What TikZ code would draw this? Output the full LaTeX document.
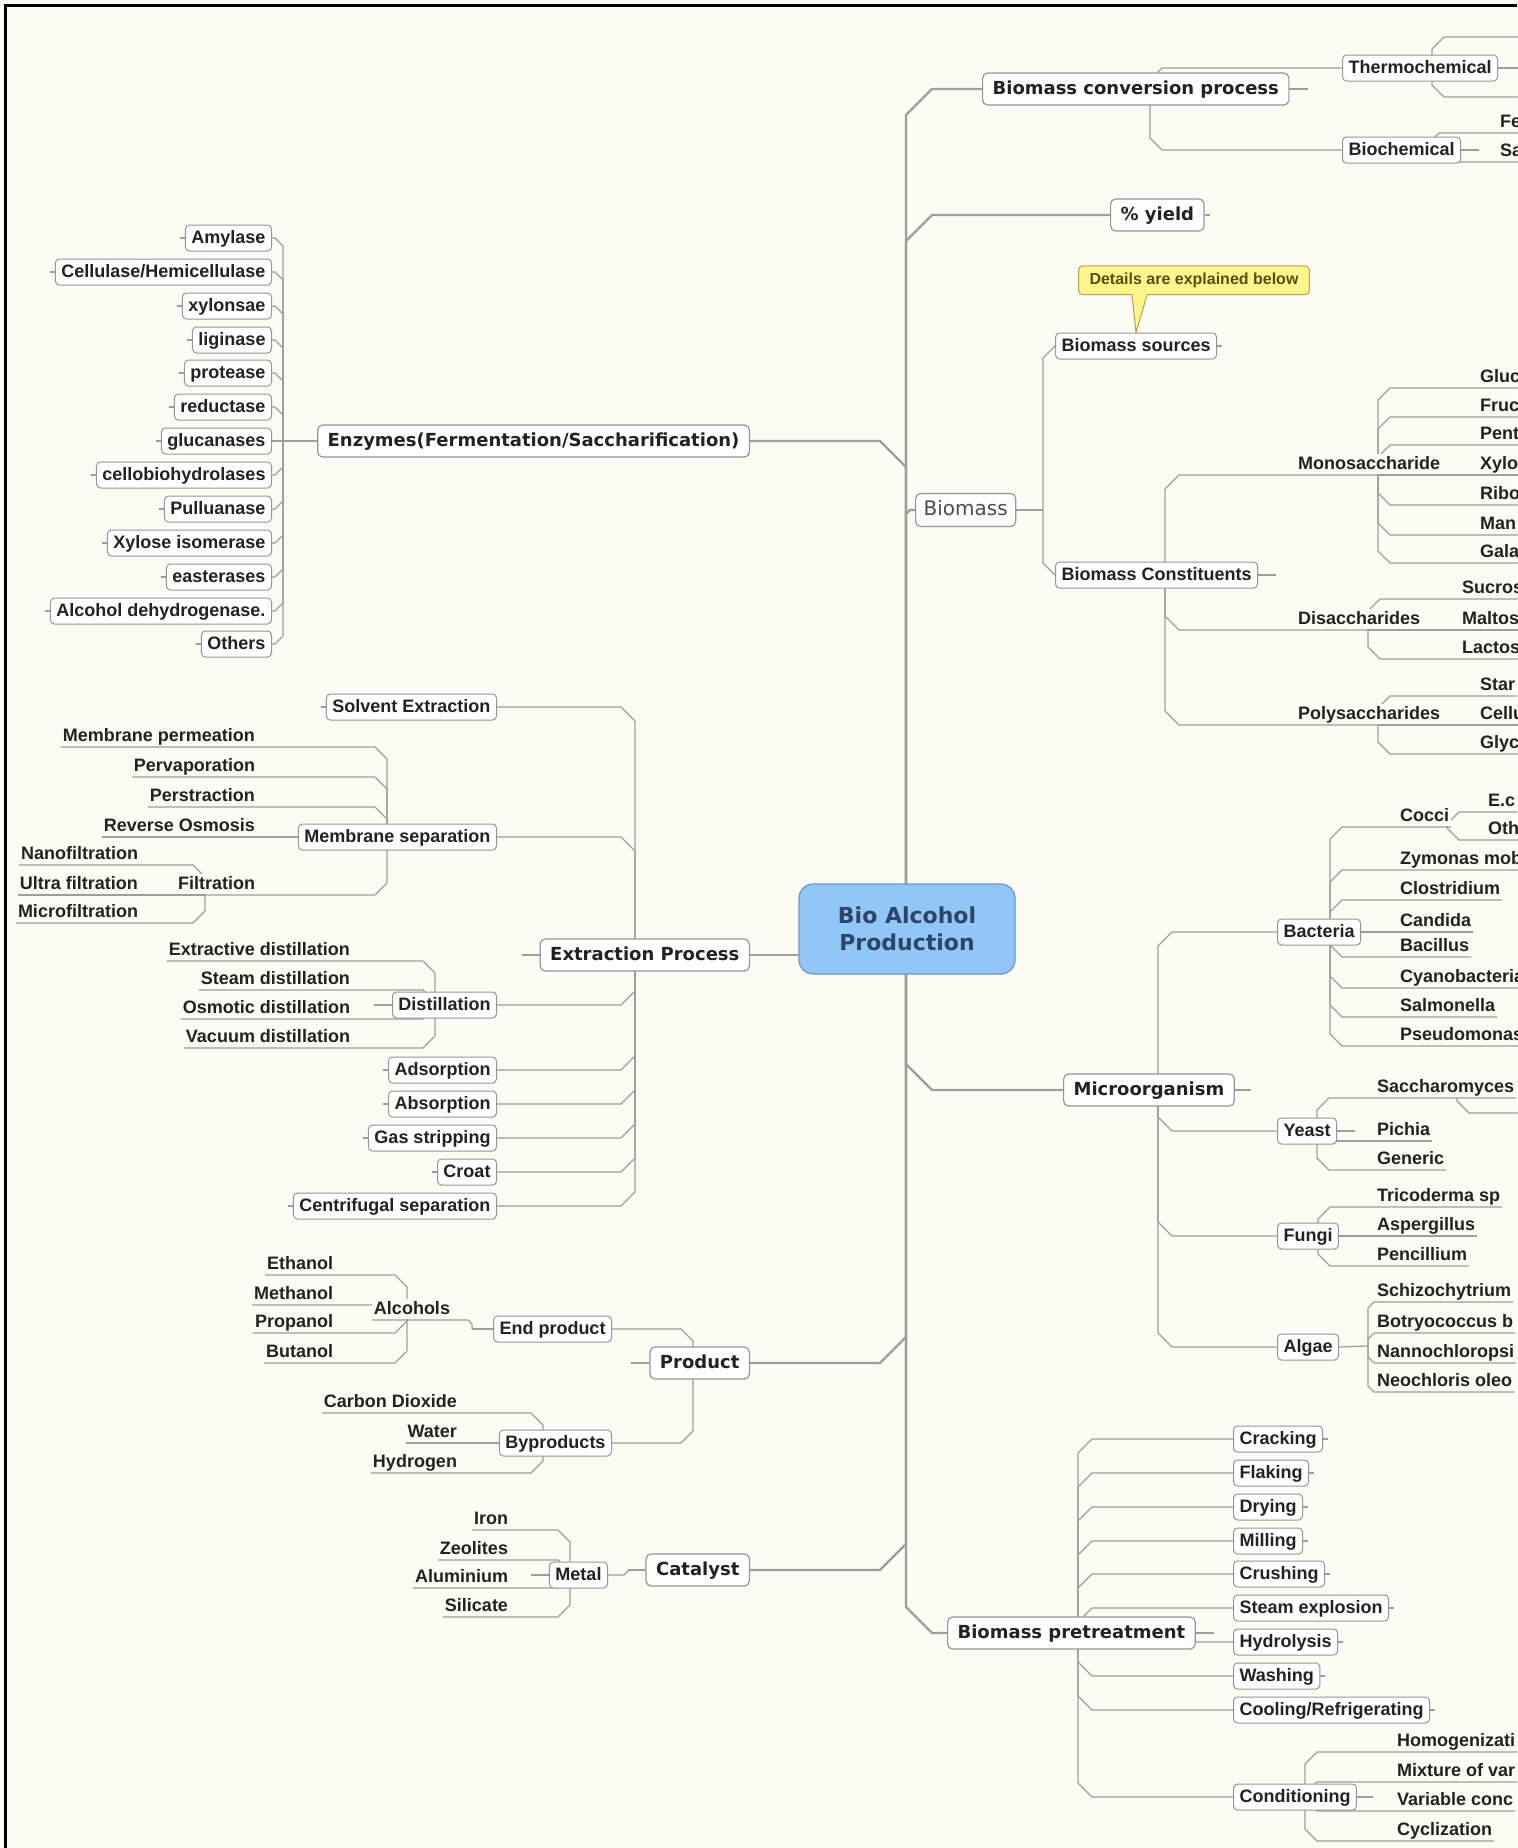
\documentclass[tikz,border=0pt]{standalone}
\usepackage{fontspec}
\setmainfont{Liberation Sans}
\newfontfamily\dejavu{DejaVu Sans}
\usetikzlibrary{calc}
\definecolor{xPaper}{RGB}{252,252,245}
\definecolor{xWire}{RGB}{158,158,156}
\definecolor{xLine}{RGB}{150,150,148}
\definecolor{xInk}{RGB}{34,34,34}
\definecolor{xHub}{RGB}{146,198,247}
\definecolor{xHubLine}{RGB}{105,150,200}
\definecolor{xHubInk}{RGB}{42,70,104}
\definecolor{xNote}{RGB}{255,245,140}
\definecolor{xNoteLine}{RGB}{175,165,70}
\definecolor{xNoteInk}{RGB}{85,80,15}
\pgfdeclarelayer{links}
\pgfsetlayers{links,main}
\tikzset{
  hubbox/.style={draw=xHubLine, fill=xHub, rounded corners=7pt, line width=0.6pt, align=center,
                 text=xHubInk, font=\dejavu\bfseries\fontsize{11}{13.5}\selectfont,
                 minimum width=108pt, minimum height=45pt},
  branchbox/.style={draw=xLine, fill=white, rounded corners=2.5pt, line width=0.6pt, text=xInk,
                 font=\dejavu\bfseries\fontsize{9}{11}\selectfont, inner xsep=5pt, inner ysep=3.5pt,
                 text height=7pt, text depth=2pt},
  softbox/.style={draw=xLine, fill=white, rounded corners=2.5pt, line width=0.6pt, text=black!70,
                 font=\dejavu\fontsize{10}{12}\selectfont, inner xsep=4pt, inner ysep=3.5pt,
                 text height=7.5pt, text depth=2pt},
  subbox/.style={draw=xLine, fill=white, rounded corners=2pt, line width=0.5pt, text=xInk,
                 font=\bfseries\fontsize{9}{11}\selectfont, inner xsep=3pt, inner ysep=2pt,
                 text height=7pt, text depth=2pt},
  tag/.style={fill=xPaper, text=xInk, font=\bfseries\fontsize{9}{11}\selectfont,
              inner xsep=1pt, inner ysep=0.4pt, outer sep=0pt, outer ysep=0.6pt,
              text height=7pt, text depth=2pt},
  callout/.style={draw=xNoteLine, fill=xNote, rounded corners=2pt, line width=0.5pt, text=xNoteInk,
                  font=\bfseries\fontsize{8}{10}\selectfont, inner xsep=5.5pt, inner ysep=3pt,
                  text height=6.5pt, text depth=1.8pt},
  wire/.style={draw=xWire, line width=0.6pt},
  spine/.style={draw=xWire, line width=1.1pt},
  twig/.style={to path={
      let \p1=(\tikztostart), \p2=(\tikztotarget),
          \n1={sign(\y2-\y1)}, \n2={sign(\x2-\x1)} in
      -- (\x1,{\y2-(\n1)*(#1)}) -- ({\x1+(\n2)*(#1)},\y2) -- (\tikztotarget)}},
  twig/.default=6pt,
  stubL/.style={append after command={(\tikzlastnode.west) edge[wire] ([xshift=-#1]\tikzlastnode.west)}},
  stubL/.default=2.5pt,
  stubR/.style={append after command={(\tikzlastnode.east) edge[wire] ([xshift=#1]\tikzlastnode.east)}},
  stubR/.default=2.5pt,
}

\begin{document}
\begin{tikzpicture}[x=0.5pt, y=-0.5pt]
  \useasboundingbox (0,0) rectangle (1517,1848);

  \node[hubbox] (bio) at (907,929) {Bio Alcohol\\Production};
  \coordinate (tHub) at (906,929);

  \node[branchbox, anchor=west, stubR=9pt] (conv) at (982,89) {Biomass conversion process};
  \node[branchbox, anchor=west, stubR] (yld) at (1110,215) {\% yield};
  \node[softbox, anchor=west] (biom) at (915,510) {Biomass};
  \node[branchbox, anchor=west, stubR=8pt] (micro) at (1063,1090) {Microorganism};
  \node[branchbox, anchor=west, stubR=9pt] (pret) at (947,1633) {Biomass pretreatment};
  \node[branchbox, anchor=east] (enz) at (750,441) {Enzymes(Fermentation/Saccharification)};
  \node[branchbox, anchor=east, stubL=9pt] (ext) at (750,955) {Extraction Process};
  \node[branchbox, anchor=east, stubL=9pt] (prod) at (750,1363) {Product};
  \node[branchbox, anchor=east] (cat) at (750,1570) {Catalyst};

  \node[subbox, anchor=west] (thermo) at (1342,68) {Thermochemical};
  \node[subbox, anchor=west, stubR=9pt] (bioch) at (1342,150) {Biochemical};
  \coordinate (tConv) at (1150,89);
  \coordinate (tThermo) at (1432,68);
  \coordinate (tBioch) at (1427,150);
  \coordinate (thA) at (1530,37);
  \coordinate (thB) at (1530,68);
  \coordinate (thC) at (1530,97);
  \node[tag, anchor=south west] (fe) at (1498,133) {Fe};
  \node[tag, anchor=south west] (sa) at (1498,162) {Sa};

  \node[subbox, anchor=west, stubR] (src) at (1055,346) {Biomass sources};
  \node[subbox, anchor=west, stubR=9pt] (cons) at (1055,575) {Biomass Constituents};
  \node[callout, anchor=south west] (tip) at (1078,295) {Details are explained below};
  \coordinate (tBiom) at (1043,510);
  \coordinate (tCons) at (1165,575);

  \node[tag, anchor=south west] (mono) at (1296,475) {Monosaccharide};
  \node[tag, anchor=south west] (di) at (1296,630) {Disaccharides};
  \node[tag, anchor=south west] (poly) at (1296,725) {Polysaccharides};
  \coordinate (tMono) at (1378,475);
  \coordinate (tDi) at (1368,630);
  \coordinate (tPoly) at (1378,725);
  \node[tag, anchor=south west] (sGlu) at (1478,388) {Gluc};
  \node[tag, anchor=south west] (sFru) at (1478,417) {Fruc};
  \node[tag, anchor=south west] (sPen) at (1478,445) {Pent};
  \node[tag, anchor=south west] (sXyl) at (1478,475) {Xylo};
  \node[tag, anchor=south west] (sRib) at (1478,505) {Ribo};
  \node[tag, anchor=south west] (sMan) at (1478,535) {Man};
  \node[tag, anchor=south west] (sGal) at (1478,563) {Gala};
  \node[tag, anchor=south west] (suc) at (1460,599) {Sucros};
  \node[tag, anchor=south west] (mal) at (1460,630) {Maltos};
  \node[tag, anchor=south west] (lac) at (1460,659) {Lactos};
  \node[tag, anchor=south west] (sta) at (1478,696) {Star};
  \node[tag, anchor=south west] (sCel) at (1478,725) {Cellu};
  \node[tag, anchor=south west] (gly) at (1478,754) {Glyc};

  \node[subbox, anchor=west] (bac) at (1277,932) {Bacteria};
  \node[subbox, anchor=west, stubR=9pt] (yea) at (1277,1131) {Yeast};
  \node[subbox, anchor=west] (fun) at (1277,1236) {Fungi};
  \node[subbox, anchor=west] (alg) at (1277,1347) {Algae};
  \coordinate (tMicro) at (1158,1090);
  \coordinate (tBac) at (1330,932);
  \coordinate (tCocci) at (1447,827);
  \coordinate (tYea) at (1317,1141);
  \coordinate (tSac) at (1457,1098);
  \coordinate (sacA) at (1530,1113);
  \coordinate (tFun) at (1318,1236);
  \coordinate (tAlg) at (1368,1346);
  \node[tag, anchor=south west] (cocci) at (1398,827) {Cocci};
  \node[tag, anchor=south west] (ec) at (1486,812) {E.c};
  \node[tag, anchor=south west] (coth) at (1486,840) {Oth};
  \node[tag, anchor=south west] (zym) at (1398,870) {Zymonas mob};
  \node[tag, anchor=south west] (clo) at (1398,900) {Clostridium};
  \node[tag, anchor=south west] (can) at (1398,932) {Candida};
  \node[tag, anchor=south west] (bacil) at (1398,957) {Bacillus};
  \node[tag, anchor=south west] (cyano) at (1398,988) {Cyanobacteria};
  \node[tag, anchor=south west] (sal) at (1398,1017) {Salmonella};
  \node[tag, anchor=south west] (pse) at (1398,1046) {Pseudomonas};
  \node[tag, anchor=south west] (sac) at (1375,1098) {Saccharomyces};
  \node[tag, anchor=south west] (pic) at (1375,1141) {Pichia};
  \node[tag, anchor=south west] (gen) at (1375,1170) {Generic};
  \node[tag, anchor=south west] (tri) at (1375,1207) {Tricoderma sp};
  \node[tag, anchor=south west] (asp) at (1375,1236) {Aspergillus};
  \node[tag, anchor=south west] (pnc) at (1375,1266) {Pencillium};
  \node[tag, anchor=south west] (sch) at (1375,1302) {Schizochytrium};
  \node[tag, anchor=south west] (bot) at (1375,1333) {Botryococcus b};
  \node[tag, anchor=south west] (nan) at (1375,1363) {Nannochloropsi};
  \node[tag, anchor=south west] (neo) at (1375,1392) {Neochloris oleo};

  \coordinate (tPret) at (1078,1633);
  \node[subbox, anchor=west, stubR] (cra) at (1233,1439) {Cracking};
  \node[subbox, anchor=west, stubR] (fla) at (1233,1473) {Flaking};
  \node[subbox, anchor=west, stubR] (dry) at (1233,1507) {Drying};
  \node[subbox, anchor=west, stubR] (mil) at (1233,1541) {Milling};
  \node[subbox, anchor=west, stubR] (cru) at (1233,1574) {Crushing};
  \node[subbox, anchor=west, stubR] (ste) at (1233,1608) {Steam explosion};
  \node[subbox, anchor=west, stubR] (hydr) at (1233,1642) {Hydrolysis};
  \node[subbox, anchor=west, stubR] (was) at (1233,1676) {Washing};
  \node[subbox, anchor=west, stubR] (coo) at (1233,1710) {Cooling/Refrigerating};
  \node[subbox, anchor=west, stubR=8pt] (con) at (1233,1797) {Conditioning};
  \coordinate (tCon) at (1305,1797);
  \node[tag, anchor=south west] (hom) at (1395,1752) {Homogenizati};
  \node[tag, anchor=south west] (mix) at (1395,1782) {Mixture of var};
  \node[tag, anchor=south west] (var) at (1395,1811) {Variable conc};
  \node[tag, anchor=south west] (cyc) at (1395,1841) {Cyclization};

  \coordinate (tEnz) at (283,441);
  \node[subbox, anchor=east, stubL] (amy) at (272,238) {Amylase};
  \node[subbox, anchor=east, stubL] (cell) at (272,272) {Cellulase/Hemicellulase};
  \node[subbox, anchor=east, stubL] (xyn) at (272,306) {xylonsae};
  \node[subbox, anchor=east, stubL] (lig) at (272,340) {liginase};
  \node[subbox, anchor=east, stubL] (prot) at (272,373) {protease};
  \node[subbox, anchor=east, stubL] (red) at (272,407) {reductase};
  \node[subbox, anchor=east, stubL] (glc) at (272,441) {glucanases};
  \node[subbox, anchor=east, stubL] (cbh) at (272,475) {cellobiohydrolases};
  \node[subbox, anchor=east, stubL] (pul) at (272,509) {Pulluanase};
  \node[subbox, anchor=east, stubL] (xis) at (272,543) {Xylose isomerase};
  \node[subbox, anchor=east, stubL] (est) at (272,577) {easterases};
  \node[subbox, anchor=east, stubL] (adh) at (272,611) {Alcohol dehydrogenase.};
  \node[subbox, anchor=east, stubL] (eoth) at (272,644) {Others};

  \coordinate (tExt) at (635,955);
  \node[subbox, anchor=east, stubL] (solv) at (497,707) {Solvent Extraction};
  \node[subbox, anchor=east] (memb) at (497,837) {Membrane separation};
  \node[subbox, anchor=east, stubL=9pt] (dist) at (497,1005) {Distillation};
  \node[subbox, anchor=east, stubL] (ads) at (497,1070) {Adsorption};
  \node[subbox, anchor=east, stubL] (abso) at (497,1104) {Absorption};
  \node[subbox, anchor=east, stubL] (gas) at (497,1138) {Gas stripping};
  \node[subbox, anchor=east, stubL] (cro) at (497,1172) {Croat};
  \node[subbox, anchor=east, stubL] (cen) at (497,1206) {Centrifugal separation};
  \coordinate (tMemb) at (387,837);
  \coordinate (tFilt) at (205,895);
  \coordinate (tDist) at (435,1005);
  \node[tag, anchor=south east] (mper) at (257,747) {Membrane permeation};
  \node[tag, anchor=south east] (perv) at (257,777) {Pervaporation};
  \node[tag, anchor=south east] (pers) at (257,807) {Perstraction};
  \node[tag, anchor=south east] (rev) at (257,837) {Reverse Osmosis};
  \node[tag, anchor=south east] (filt) at (257,895) {Filtration};
  \node[tag, anchor=south east] (nano) at (140,865) {Nanofiltration};
  \node[tag, anchor=south east] (ult) at (140,895) {Ultra filtration};
  \node[tag, anchor=south east] (mic) at (140,923) {Microfiltration};
  \node[tag, anchor=south east] (exd) at (352,961) {Extractive distillation};
  \node[tag, anchor=south east] (std) at (352,990) {Steam distillation};
  \node[tag, anchor=south east] (osd) at (352,1019) {Osmotic distillation};
  \node[tag, anchor=south east] (vad) at (352,1048) {Vacuum distillation};

  \coordinate (tProd) at (693,1363);
  \coordinate (tEndp) at (472,1329);
  \coordinate (tAlc) at (407,1320);
  \coordinate (tByp) at (543,1443);
  \node[subbox, anchor=east] (endp) at (612,1329) {End product};
  \node[subbox, anchor=east] (byp) at (612,1443) {Byproducts};
  \node[tag, anchor=south east] (alc) at (452,1320) {Alcohols};
  \node[tag, anchor=south east] (eth) at (335,1275) {Ethanol};
  \node[tag, anchor=south east] (met) at (335,1305) {Methanol};
  \node[tag, anchor=south east] (prop) at (335,1333) {Propanol};
  \node[tag, anchor=south east] (but) at (335,1363) {Butanol};
  \node[tag, anchor=south east] (co2) at (459,1413) {Carbon Dioxide};
  \node[tag, anchor=south east] (wat) at (459,1443) {Water};
  \node[tag, anchor=south east] (h2) at (459,1473) {Hydrogen};

  \coordinate (tCat) at (628,1570);
  \coordinate (tMet) at (570,1575);
  \node[subbox, anchor=east, stubL=9pt] (metal) at (608,1575) {Metal};
  \node[tag, anchor=south east] (iron) at (510,1530) {Iron};
  \node[tag, anchor=south east] (zeo) at (510,1560) {Zeolites};
  \node[tag, anchor=south east] (alu) at (510,1588) {Aluminium};
  \node[tag, anchor=south east] (sil) at (510,1617) {Silicate};

  \fill[xNote] ([xshift=27pt,yshift=1pt]tip.south west) -- (src.north) -- ([xshift=34.5pt,yshift=1pt]tip.south west) -- cycle;
  \draw[xNoteLine, line width=0.5pt] ([xshift=27pt]tip.south west) -- (src.north) -- ([xshift=34.5pt]tip.south west);

  \begin{pgfonlayer}{links}
    \fill[xPaper] (0,0) rectangle (1517,1848);
    \draw[spine] (tHub) to[twig=13pt] (conv.west);
    \draw[spine] (tHub) to[twig=13pt] (yld.west);
    \draw[spine] (tHub) to[twig=2pt] (biom.west);
    \draw[spine] (tHub) to[twig=13pt] (micro.west);
    \draw[spine] (tHub) to[twig=13pt] (pret.west);
    \draw[spine] (tHub) to[twig=13pt] (enz.east);
    \draw[spine] (ext.east) -- (ext.east -| bio.west);
    \draw[spine] (tHub) to[twig=13pt] (prod.east);
    \draw[spine] (tHub) to[twig=13pt] (cat.east);

    \draw[wire] (tConv) to[twig] (thermo.west);
    \draw[wire] (tConv) to[twig] (bioch.west);
    \draw[wire] (tThermo) to[twig] (thA);
    \draw[wire] (tThermo) -- (thB);
    \draw[wire] (tThermo) to[twig] (thC);
    \draw[wire] (tBioch) to[twig] (fe.south east);
    \draw[wire] (tBioch) to[twig] (sa.south east);

    \draw[wire] (biom.east) -- (tBiom);
    \draw[wire] (tBiom) to[twig] (src.west);
    \draw[wire] (tBiom) to[twig] (cons.west);
    \draw[wire] (tCons) to[twig=7pt] (mono.south east);
    \draw[wire] (tCons) to[twig=7pt] (di.south east);
    \draw[wire] (tCons) to[twig=7pt] (poly.south east);
    \draw[wire] (tMono) to[twig] (sGlu.south east);
    \draw[wire] (tMono) to[twig] (sFru.south east);
    \draw[wire] (tMono) to[twig] (sPen.south east);
    \draw[wire] (tMono) to[twig] (sXyl.south east);
    \draw[wire] (tMono) to[twig] (sRib.south east);
    \draw[wire] (tMono) to[twig] (sMan.south east);
    \draw[wire] (tMono) to[twig] (sGal.south east);
    \draw[wire] (tDi) to[twig] (suc.south east);
    \draw[wire] (tDi) to[twig] (mal.south east);
    \draw[wire] (tDi) to[twig] (lac.south east);
    \draw[wire] (tPoly) to[twig] (sta.south east);
    \draw[wire] (tPoly) to[twig] (sCel.south east);
    \draw[wire] (tPoly) to[twig] (gly.south east);

    \draw[wire] (tMicro) to[twig=7pt] (bac.west);
    \draw[wire] (tMicro) to[twig=7pt] (yea.west);
    \draw[wire] (tMicro) to[twig=7pt] (fun.west);
    \draw[wire] (tMicro) to[twig=7pt] (alg.west);
    \draw[wire] (tBac) to[twig] (cocci.south east);
    \draw[wire] (tCocci) to[twig] (ec.south east);
    \draw[wire] (tCocci) to[twig] (coth.south east);
    \draw[wire] (tBac) to[twig] (zym.south east);
    \draw[wire] (tBac) to[twig] (clo.south east);
    \draw[wire] (tBac) to[twig] (can.south east);
    \draw[wire] (tBac) to[twig] (bacil.south east);
    \draw[wire] (tBac) to[twig] (cyano.south east);
    \draw[wire] (tBac) to[twig] (sal.south east);
    \draw[wire] (tBac) to[twig] (pse.south east);
    \draw[wire] (tYea) to[twig] (sac.south east);
    \draw[wire] (tSac) to[twig] (sacA);
    \draw[wire] (tYea) to[twig] (pic.south east);
    \draw[wire] (tYea) to[twig] (gen.south east);
    \draw[wire] (tFun) to[twig] (tri.south east);
    \draw[wire] (tFun) to[twig] (asp.south east);
    \draw[wire] (tFun) to[twig] (pnc.south east);
    \draw[wire] (alg.east) -- (tAlg);
    \draw[wire] (tAlg) to[twig=3pt] (sch.south east);
    \draw[wire] (tAlg) to[twig=3pt] (bot.south east);
    \draw[wire] (tAlg) to[twig=3pt] (nan.south east);
    \draw[wire] (tAlg) to[twig=3pt] (neo.south east);

    \draw[wire] (tPret) to[twig=7pt] (cra.west);
    \draw[wire] (tPret) to[twig=7pt] (fla.west);
    \draw[wire] (tPret) to[twig=7pt] (dry.west);
    \draw[wire] (tPret) to[twig=7pt] (mil.west);
    \draw[wire] (tPret) to[twig=7pt] (cru.west);
    \draw[wire] (tPret) to[twig=7pt] (ste.west);
    \draw[wire] (tPret) to[twig=7pt] (hydr.west);
    \draw[wire] (tPret) to[twig=7pt] (was.west);
    \draw[wire] (tPret) to[twig=7pt] (coo.west);
    \draw[wire] (tPret) to[twig=7pt] (con.west);
    \draw[wire] (tCon) to[twig] (hom.south east);
    \draw[wire] (tCon) to[twig] (mix.south east);
    \draw[wire] (tCon) to[twig] (var.south east);
    \draw[wire] (tCon) to[twig] (cyc.south east);

    \draw[wire] (enz.west) -- (tEnz);
    \draw[wire] (tEnz) to[twig=4pt] (amy.east);
    \draw[wire] (tEnz) to[twig=4pt] (cell.east);
    \draw[wire] (tEnz) to[twig=4pt] (xyn.east);
    \draw[wire] (tEnz) to[twig=4pt] (lig.east);
    \draw[wire] (tEnz) to[twig=4pt] (prot.east);
    \draw[wire] (tEnz) to[twig=4pt] (red.east);
    \draw[wire] (tEnz) to[twig=4pt] (glc.east);
    \draw[wire] (tEnz) to[twig=4pt] (cbh.east);
    \draw[wire] (tEnz) to[twig=4pt] (pul.east);
    \draw[wire] (tEnz) to[twig=4pt] (xis.east);
    \draw[wire] (tEnz) to[twig=4pt] (est.east);
    \draw[wire] (tEnz) to[twig=4pt] (adh.east);
    \draw[wire] (tEnz) to[twig=4pt] (eoth.east);

    \draw[wire] (tExt) to[twig=7pt] (solv.east);
    \draw[wire] (tExt) to[twig=7pt] (memb.east);
    \draw[wire] (tExt) to[twig=7pt] (dist.east);
    \draw[wire] (tExt) to[twig=7pt] (ads.east);
    \draw[wire] (tExt) to[twig=7pt] (abso.east);
    \draw[wire] (tExt) to[twig=7pt] (gas.east);
    \draw[wire] (tExt) to[twig=7pt] (cro.east);
    \draw[wire] (tExt) to[twig=7pt] (cen.east);
    \draw[wire] (tMemb) to[twig] (mper.south west);
    \draw[wire] (tMemb) to[twig] (perv.south west);
    \draw[wire] (tMemb) to[twig] (pers.south west);
    \draw[wire] (tMemb) to[twig] (rev.south west);
    \draw[wire] (tMemb) to[twig] (filt.south west);
    \draw[wire] (tFilt) to[twig] (nano.south west);
    \draw[wire] (tFilt) to[twig] (ult.south west);
    \draw[wire] (tFilt) to[twig] (mic.south west);
    \draw[wire] (tDist) to[twig] (exd.south west);
    \draw[wire] (tDist) to[twig] (std.south west);
    \draw[wire] (tDist) to[twig] (osd.south west);
    \draw[wire] (tDist) to[twig] (vad.south west);

    \draw[wire] (tProd) to[twig] (endp.east);
    \draw[wire] (tProd) to[twig] (byp.east);
    \draw[wire] (endp.west) -- (tEndp);
    \draw[wire] (tEndp) to[twig=2pt] (alc.south west);
    \draw[wire] (tAlc) to[twig] (eth.south west);
    \draw[wire] (tAlc) to[twig] (met.south west);
    \draw[wire] (tAlc) to[twig] (prop.south west);
    \draw[wire] (tAlc) to[twig] (but.south west);
    \draw[wire] (tByp) to[twig] (co2.south west);
    \draw[wire] (tByp) to[twig] (wat.south west);
    \draw[wire] (tByp) to[twig] (h2.south west);

    \draw[wire] (cat.west) -- (tCat);
    \draw[wire] (tCat) to[twig=2pt] (metal.east);
    \draw[wire] (tMet) to[twig] (iron.south west);
    \draw[wire] (tMet) to[twig] (zeo.south west);
    \draw[wire] (tMet) to[twig] (alu.south west);
    \draw[wire] (tMet) to[twig] (sil.south west);
  \end{pgfonlayer}

  \draw[black, line width=1.5pt] (5.5,1848) -- (5.5,5.5) -- (1517,5.5);
\end{tikzpicture}
\end{document}
